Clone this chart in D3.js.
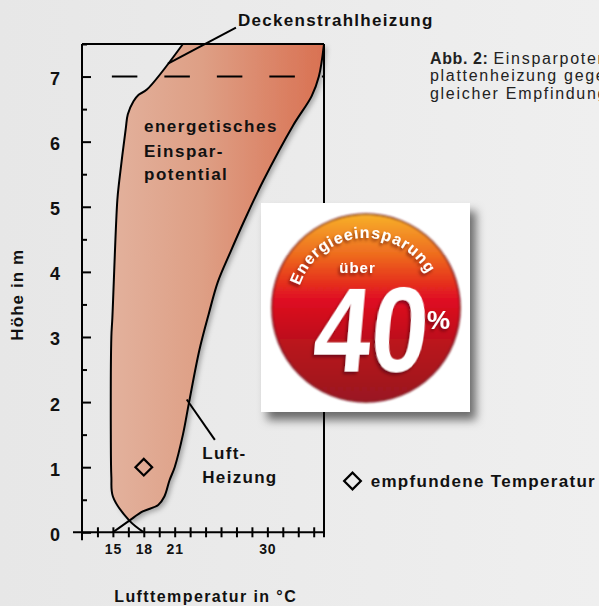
<!DOCTYPE html>
<html>
<head>
<meta charset="utf-8">
<script src="https://cdn.jsdelivr.net/npm/d3@7"></script>
<style>
  html, body { margin: 0; padding: 0; background: #eaeaea; overflow: hidden; }
  svg { display: block; font-family: "Liberation Sans", Arial, Helvetica, sans-serif; }
</style>
</head>
<body>
<div id="chart"></div>
<script>
var heightTicks = [0, 1, 2, 3, 4, 5, 6, 7];
var heightMinorTicks = [0.5, 1.5, 2.5, 3.5, 4.5, 5.5, 6.5, 7.5];
var tempTicks = [13.5, 15, 16.5, 18, 19.5, 21, 22.5, 24, 25.5, 27, 28.5, 30, 31.5, 33, 34.5];
var tempLabels = [15, 18, 21, 30];

// Deckenstrahlheizung (left curve)
var deckeTemp   = [18, 16.6, 15.0, 14.85, 14.8, 14.85, 14.95, 15.43, 15.62, 16.25, 16.45, 17.0, 17.5, 18.3, 21.8];
var deckeHeight = [0, 0.18, 0.55, 0.85, 1.5, 3.0, 3.3, 5.1, 5.4, 6.2, 6.42, 6.62, 6.72, 6.8, 7.5];

// Luftheizung (right curve)
var luftTemp   = [15, 16.6, 17.9, 19.4, 20.0, 20.5, 21.0, 21.8, 22.4, 23.4, 24.3, 25.2, 26.4, 27.8, 29.6, 32.5, 34.3, 35.0, 35.5];
var luftHeight = [0, 0.18, 0.32, 0.42, 0.55, 0.8, 1.0, 1.5, 2.0, 2.8, 3.35, 3.85, 4.3, 4.8, 5.4, 6.25, 6.7, 7.0, 7.5];

// empfundene Temperatur
var feltTemp = [18];
var feltHeight = [1];
var referenceHeight = 7;

var width = 599, height = 606;

var svg = d3.select("#chart").append("svg")
    .attr("width", width)
    .attr("height", height);

var defs = svg.append("defs");

var bg = defs.append("linearGradient").attr("id", "bgGrad");
bg.append("stop").attr("offset", "0%").attr("stop-color", "#e7e7e7");
bg.append("stop").attr("offset", "100%").attr("stop-color", "#efefef");
svg.append("rect").attr("width", width).attr("height", height).attr("fill", "url(#bgGrad)");

var x = d3.scaleLinear().domain([12, 35.5]).range([82, 324]);
var y = d3.scaleLinear().domain([0, 7.5]).range([532.3, 44]);

var fillGrad = defs.append("linearGradient")
    .attr("id", "fillGrad")
    .attr("gradientUnits", "userSpaceOnUse")
    .attr("x1", x(12)).attr("x2", x(35.5)).attr("y1", 0).attr("y2", 0);
fillGrad.append("stop").attr("offset", "0%").attr("stop-color", "#e4b7a4");
fillGrad.append("stop").attr("offset", "50%").attr("stop-color", "#de9f85");
fillGrad.append("stop").attr("offset", "100%").attr("stop-color", "#d97152");

var shade = defs.append("filter").attr("id", "shade").attr("x", "-10%").attr("y", "-10%").attr("width", "130%").attr("height", "130%");
shade.append("feDropShadow").attr("dx", 3).attr("dy", 3).attr("stdDeviation", 2.5)
    .attr("flood-color", "#000").attr("flood-opacity", 0.3);

var boxShade = defs.append("filter").attr("id", "boxShade").attr("x", "-10%").attr("y", "-10%").attr("width", "130%").attr("height", "130%");
boxShade.append("feDropShadow").attr("dx", 6).attr("dy", 8).attr("stdDeviation", 5)
    .attr("flood-color", "#000").attr("flood-opacity", 0.55);

var decke = deckeTemp.map(function (t, i) { return { t: t, h: deckeHeight[i] }; });
var luft = luftTemp.map(function (t, i) { return { t: t, h: luftHeight[i] }; });

var line = d3.line()
    .x(function (d) { return x(d.t); })
    .y(function (d) { return y(d.h); })
    .curve(d3.curveCatmullRom.alpha(0.5));

// savings area between the two curves, from their crossing upwards
var areaPath = line(luft.slice(1)) + line(decke.slice(1).reverse()).replace("M", "L") + "Z";
svg.append("path")
    .attr("d", areaPath)
    .attr("fill", "url(#fillGrad)")
    .attr("filter", "url(#shade)");

// frame
svg.append("line")
    .attr("x1", x(12)).attr("x2", x(12))
    .attr("y1", y(7.5)).attr("y2", y(0) + 8)
    .attr("stroke", "#000").attr("stroke-width", 2);
svg.append("line")
    .attr("x1", x(12) - 9).attr("x2", x(35.5))
    .attr("y1", y(0)).attr("y2", y(0))
    .attr("stroke", "#000").attr("stroke-width", 2);
svg.append("line")
    .attr("x1", x(12)).attr("x2", x(35.5))
    .attr("y1", y(7.5)).attr("y2", y(7.5))
    .attr("stroke", "#000").attr("stroke-width", 2);
svg.append("line")
    .attr("x1", x(35.5)).attr("x2", x(35.5))
    .attr("y1", y(7.5)).attr("y2", y(0) + 5)
    .attr("stroke", "#000").attr("stroke-width", 2);

svg.append("line")
    .attr("x1", x(14.9)).attr("x2", x(35.5))
    .attr("y1", y(referenceHeight)).attr("y2", y(referenceHeight))
    .attr("stroke", "#000").attr("stroke-width", 2)
    .attr("stroke-dasharray", "25.5,27");

// y axis
var gy = svg.append("g")
    .attr("transform", "translate(" + x(12) + ",0)")
    .call(d3.axisLeft(y).tickValues(heightTicks).tickSize(9).tickPadding(13).tickFormat(d3.format("d")));
gy.select(".domain").remove();
gy.selectAll(".tick line").attr("x2", 9).attr("stroke", "#000").attr("stroke-width", 2);
gy.selectAll(".tick text")
    .attr("dy", "0.44em")
    .attr("fill", "#111")
    .style("font-size", "18px")
    .style("font-weight", "bold")
    .style("font-family", "Liberation Sans, Arial, sans-serif");

var gyMinor = svg.append("g")
    .attr("transform", "translate(" + x(12) + ",0)")
    .call(d3.axisLeft(y).tickValues(heightMinorTicks).tickSize(5).tickFormat(""));
gyMinor.select(".domain").remove();
gyMinor.selectAll(".tick line").attr("x2", 5).attr("stroke", "#000").attr("stroke-width", 2);

// x axis
var gx = svg.append("g")
    .attr("transform", "translate(0," + y(0) + ")")
    .call(d3.axisBottom(x).tickValues(tempTicks).tickSize(5)
        .tickFormat(function (d) { return tempLabels.indexOf(d) >= 0 ? d : ""; }));
gx.select(".domain").remove();
gx.selectAll(".tick line").attr("y1", -5).attr("stroke", "#000").attr("stroke-width", 2);
gx.selectAll(".tick text")
    .attr("y", 22).attr("dy", 0)
    .attr("fill", "#111")
    .style("font-size", "14px")
    .style("font-weight", "bold")
    .style("letter-spacing", "0.8px")
    .style("font-family", "Liberation Sans, Arial, sans-serif");

// curves
svg.append("path")
    .attr("d", line(decke))
    .attr("fill", "none").attr("stroke", "#000").attr("stroke-width", 2);
svg.append("path")
    .attr("d", line(luft))
    .attr("fill", "none").attr("stroke", "#000").attr("stroke-width", 2);

// felt temperature marker
var diamond = d3.symbol().type(d3.symbolSquare).size(140);
svg.selectAll(".felt")
    .data(feltTemp)
    .enter().append("path")
    .attr("class", "felt")
    .attr("d", diamond)
    .attr("transform", function (d, i) { return "translate(" + x(d) + "," + y(feltHeight[i]) + ") rotate(45)"; })
    .attr("fill", "none").attr("stroke", "#000").attr("stroke-width", 2.2);

// leader lines
svg.append("line")
    .attr("x1", x(20.35)).attr("y1", y(7.2))
    .attr("x2", x(26.95)).attr("y2", y(7.75))
    .attr("stroke", "#000").attr("stroke-width", 2);
svg.append("line")
    .attr("x1", x(22.17)).attr("y1", y(2.04))
    .attr("x2", x(24.9)).attr("y2", y(1.42))
    .attr("stroke", "#000").attr("stroke-width", 2);

function addText(px, py, str, size, weight, spacing, anchor) {
    return svg.append("text")
        .attr("x", px).attr("y", py)
        .attr("fill", "#111")
        .attr("text-anchor", anchor || "start")
        .style("font-size", size + "px")
        .style("font-weight", weight)
        .style("letter-spacing", spacing + "px")
        .text(str);
}

addText(238, 26, "Deckenstrahlheizung", 17, "bold", 1.3);
addText(144, 131.7, "energetisches", 17, "bold", 1.5);
addText(144, 156.7, "Einspar-", 17, "bold", 1.5);
addText(144, 180, "potential", 17, "bold", 1.5);
addText(202.3, 459.3, "Luft-", 17, "bold", 1.3);
addText(202.3, 483.3, "Heizung", 17, "bold", 1.3);
addText(205.7, 601.5, "Lufttemperatur in °C", 16, "bold", 1.4, "middle");
addText(0, 0, "Höhe in m", 17, "bold", 1.1, "middle")
    .attr("transform", "translate(23.3,294.7) rotate(-90)");

// legend
svg.append("path")
    .attr("d", diamond)
    .attr("transform", "translate(352.5,481) rotate(45)")
    .attr("fill", "none").attr("stroke", "#000").attr("stroke-width", 2.2);
addText(370.7, 486.7, "empfundene Temperatur", 17, "bold", 1.3);

// caption
var caption = [
    ["Abb. 2: ", "Einsparpotential der Decken-"],
    ["", "plattenheizung gegenüber Luftheizung bei"],
    ["", "gleicher Empfindungstemperatur"]
];
caption.forEach(function (row, i) {
    var t = addText(430, 63.5 + i * 17.5, "", 16, "normal", 1.7).attr("fill", "#222");
    if (row[0]) t.append("tspan").style("font-weight", "bold").style("letter-spacing", "0.6px").text(row[0]);
    t.append("tspan").text(row[1]);
});

// badge
var badge = svg.append("g");
badge.append("rect")
    .attr("x", 261).attr("y", 203)
    .attr("width", 209).attr("height", 209)
    .attr("fill", "#fff")
    .attr("filter", "url(#boxShade)");

var redGrad = defs.append("linearGradient").attr("id", "redGrad")
    .attr("x1", 0).attr("x2", 0).attr("y1", 0).attr("y2", 1);
redGrad.append("stop").attr("offset", "0%").attr("stop-color", "#f7b12a");
redGrad.append("stop").attr("offset", "22%").attr("stop-color", "#ee6a1f");
redGrad.append("stop").attr("offset", "45%").attr("stop-color", "#e01020");
redGrad.append("stop").attr("offset", "70%").attr("stop-color", "#b8121f");
redGrad.append("stop").attr("offset", "100%").attr("stop-color", "#9a1420");

var rimBlur = defs.append("filter").attr("id", "rimBlur");
rimBlur.append("feGaussianBlur").attr("stdDeviation", 1.2);

var cx = 366, cy = 308, r = 94;
badge.append("circle")
    .attr("cx", cx).attr("cy", cy).attr("r", r)
    .attr("fill", "url(#redGrad)")
    .attr("stroke", "#7a0f16").attr("stroke-width", 1.5)
    .attr("filter", "url(#rimBlur)");

var arcR = 70, a0 = -195 * Math.PI / 180, a1 = 5 * Math.PI / 180;
defs.append("path")
    .attr("id", "badgeArc")
    .attr("d", "M" + (cx + arcR * Math.cos(a0)) + "," + (cy + arcR * Math.sin(a0)) +
        " A" + arcR + "," + arcR + " 0 1 1 " + (cx + arcR * Math.cos(a1)) + "," + (cy + arcR * Math.sin(a1)));

var textShade = defs.append("filter").attr("id", "textShade").attr("x", "-20%").attr("y", "-20%").attr("width", "140%").attr("height", "140%");
textShade.append("feDropShadow").attr("dx", -1.5).attr("dy", 2.5).attr("stdDeviation", 1.5)
    .attr("flood-color", "#4a060c").attr("flood-opacity", 0.6);

badge.append("text")
    .attr("fill", "#fff")
    .style("font-size", "16px")
    .style("font-weight", "bold")
    .style("letter-spacing", "1px")
    .attr("filter", "url(#textShade)")
    .append("textPath")
    .attr("href", "#badgeArc")
    .attr("startOffset", "50%")
    .attr("text-anchor", "middle")
    .text("Energieeinsparung");

badge.append("text")
    .attr("x", 357.5).attr("y", 273)
    .attr("text-anchor", "middle")
    .attr("fill", "#fff")
    .style("font-size", "15px")
    .style("font-weight", "bold")
    .style("letter-spacing", "1px")
    .attr("filter", "url(#textShade)")
    .text("über");

badge.append("text")
    .attr("x", 368.5).attr("y", 372)
    .attr("text-anchor", "middle")
    .attr("textLength", 114)
    .attr("lengthAdjust", "spacingAndGlyphs")
    .attr("fill", "#fff")
    .attr("transform", "skewX(-5) translate(32,0)")
    .style("font-size", "120px")
    .style("font-weight", "bold")
    .attr("filter", "url(#textShade)")
    .text("40");

badge.append("text")
    .attr("x", 427).attr("y", 329)
    .attr("fill", "#fff")
    .style("font-size", "26px")
    .style("font-weight", "bold")
    .attr("filter", "url(#textShade)")
    .text("%");
</script>
</body>
</html>
